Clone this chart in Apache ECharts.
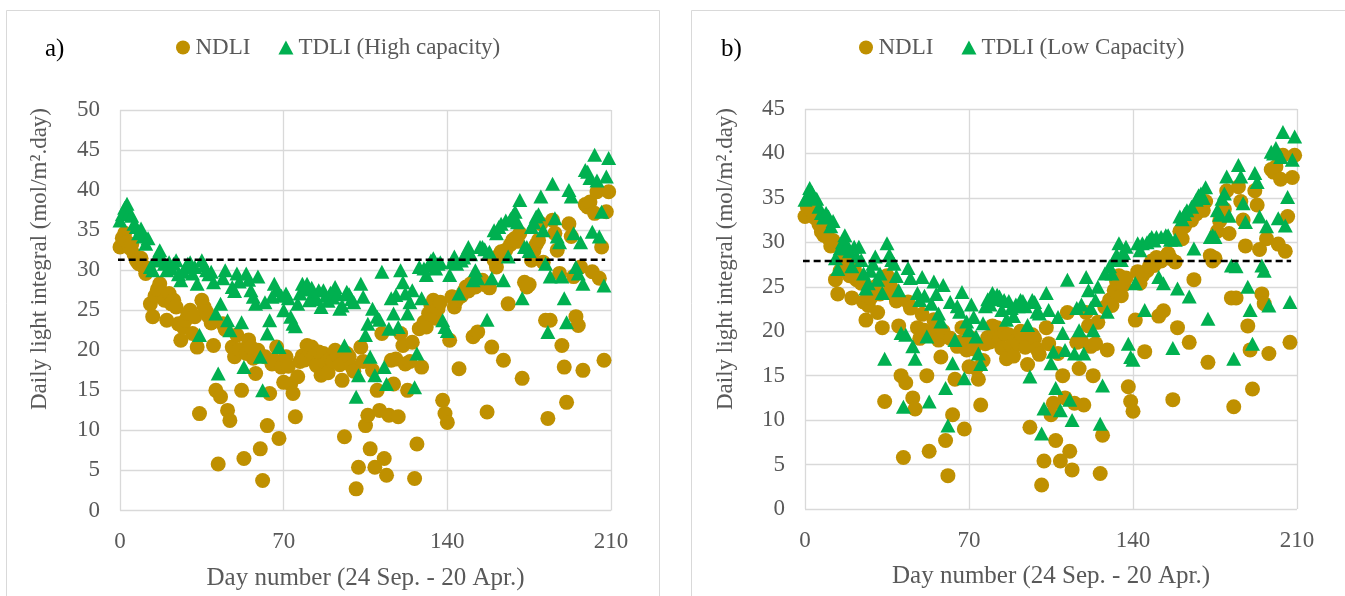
<!DOCTYPE html>
<html>
<head>
<meta charset="utf-8">
<title>Daily light integral</title>
<script src="https://cdn.jsdelivr.net/npm/echarts@6/dist/echarts.min.js"></script>
<style>
  html, body { margin: 0; padding: 0; background: #fff; }
  #chart { width: 1345px; height: 596px; }
</style>
</head>
<body>
<div id="chart"></div>
<script>
// natural daily light integral, one value per day (day 0 = 24 Sep.)
var ndli = [
  32.9, 34.0, 34.6, 33.5, 32.8, 33.2, 32.0, 31.2, 30.8, 31.5,
  30.5, 29.6, 30.2, 25.8, 24.2, 26.8, 27.6, 28.3, 27.2, 26.25,
  23.75, 27.1, 25.8, 26.25, 25.4, 23.3, 21.25, 22.9, 23.75, 24.6,
  25.0, 22.1, 24.2, 20.4, 12.1, 26.25, 25.4, 24.8, 24.2, 23.4,
  20.6, 15.0, 5.8, 14.2, 23.3, 22.6, 12.5, 11.25, 20.4, 19.2,
  21.9, 20.1, 15.0, 6.5, 19.6, 21.3, 20.4, 19.0, 17.1, 20.0,
  7.7, 3.75, 19.2, 10.6, 14.6, 18.3, 18.75, 20.4, 9.0, 17.9,
  16.0, 19.2, 18.0, 15.8, 14.6, 11.7, 16.7, 18.6, 19.3, 18.8,
  20.6, 19.9, 20.4, 19.3, 18.1, 19.8, 16.9, 19.6, 18.4, 17.2,
  19.0, 18.6, 20.0, 19.4, 18.2, 16.25, 9.2, 19.6, 19.2, 18.0,
  17.4, 2.7, 5.4, 20.4, 18.6, 10.6, 11.9, 7.7, 17.5, 5.4,
  15.0, 12.5, 22.1, 6.5, 4.4, 11.9, 18.75, 15.8, 18.9, 11.7,
  22.1, 20.6, 18.3, 15.0, 18.6, 21.0, 4.0, 8.3, 22.7, 17.9,
  23.5, 22.9, 24.6, 25.6, 26.25, 24.0, 25.2, 26.0, 13.75, 12.1,
  11.0, 21.25, 26.7, 25.4, 26.25, 17.7, 26.8, 27.3, 27.9, 27.4,
  28.3, 21.7, 27.9, 22.3, 28.4, 28.75, 28.2, 12.3, 27.8, 20.4,
  31.25, 30.4, 31.8, 32.3, 18.75, 32.5, 25.8, 33.2, 33.75, 34.0,
  33.6, 34.6, 16.5, 28.5, 27.9, 28.2, 31.25, 32.4, 33.2, 33.75,
  35.8, 31.0, 23.75, 11.5, 23.75, 36.25, 34.6, 32.5, 29.6, 20.6,
  17.9, 13.5, 35.8, 34.2, 29.2, 24.2, 23.1, 30.4, 17.5, 38.2,
  37.9, 38.5, 29.8, 37.1, 39.8, 29.0, 32.9, 18.75, 37.3, 39.8
];

// total daily light integral with high capacity lighting
var tdliHigh = [
  36.2, 37.0, 37.8, 38.3, 37.2, 36.8, 35.8, 35.4, 34.6, 35.2,
  34.2, 33.3, 34.0, 30.4, 30.0, 31.2, 31.8, 32.5, 31.5, 30.8,
  30.0, 31.0, 30.2, 30.8, 31.25, 29.5, 28.75, 29.8, 30.4, 30.8,
  31.0, 29.6, 30.4, 28.3, 21.9, 31.25, 30.6, 30.0, 29.5, 29.8,
  28.5, 24.6, 17.1, 25.8, 29.0, 30.0, 23.75, 22.5, 27.9, 27.4,
  29.6, 28.6, 23.5, 17.9, 29.6, 28.8, 27.5, 26.7, 25.8, 29.2,
  19.2, 15.0, 26.0, 22.1, 23.75, 26.7, 28.3, 27.5, 20.4, 26.8,
  25.0, 27.1, 26.5, 24.2, 23.3, 23.0, 25.8, 27.1, 28.3, 27.6,
  28.3, 26.25, 27.8, 27.0, 26.4, 27.5, 25.4, 27.5, 26.8, 26.2,
  27.2, 26.6, 27.9, 27.0, 25.2, 25.6, 20.6, 27.3, 27.0, 26.4,
  26.0, 14.2, 16.9, 28.3, 26.7, 21.9, 23.3, 19.2, 25.2, 16.9,
  24.2, 23.8, 29.8, 17.9, 15.8, 22.7, 26.5, 24.6, 26.9, 22.9,
  30.0, 28.5, 27.1, 24.6, 26.0, 27.5, 15.4, 19.6, 30.4, 26.5,
  30.2, 29.4, 30.6, 31.2, 31.5, 30.2, 30.8, 31.0, 23.75, 22.9,
  22.4, 29.4, 31.0, 31.7, 30.8, 27.1, 31.2, 31.6, 32.2, 32.9,
  32.0, 28.75, 30.0, 29.0, 32.9, 32.9, 32.6, 23.8, 32.3, 29.0,
  35.0, 34.6, 35.4, 35.8, 28.75, 36.2, 31.7, 36.4, 36.8, 37.3,
  36.0, 38.75, 26.5, 32.9, 32.9, 32.4, 35.4, 36.0, 36.7, 37.0,
  39.2, 35.0, 30.8, 22.3, 29.2, 40.8, 36.5, 34.2, 33.5, 29.2,
  26.5, 23.5, 40.0, 39.2, 34.6, 30.4, 29.6, 33.5, 28.3, 42.5,
  42.3, 41.5, 34.8, 44.4, 41.2, 34.2, 37.3, 28.1, 41.7, 44.0
];

// total daily light integral with low capacity lighting
var tdliLow = [
  34.8, 35.2, 36.1, 35.6, 35.0, 34.9, 34.0, 33.3, 32.8, 33.3,
  32.9, 31.8, 32.4, 28.2, 27.0, 29.3, 30.0, 30.8, 29.7, 29.0,
  27.3, 29.5, 28.4, 29.5, 28.0, 26.5, 24.8, 25.4, 26.8, 27.6,
  28.4, 25.8, 26.5, 24.3, 16.9, 29.9, 28.6, 28.0, 27.6, 26.2,
  24.6, 19.8, 11.5, 19.6, 27.1, 26.0, 18.3, 16.9, 24.3, 23.5,
  26.1, 24.0, 19.4, 12.1, 23.1, 25.6, 24.2, 22.0, 21.1, 25.2,
  13.6, 9.4, 23.3, 16.4, 19.0, 22.8, 22.2, 24.4, 14.7, 21.1,
  20.1, 23.0, 21.6, 19.4, 17.5, 16.3, 20.9, 22.8, 23.6, 23.0,
  24.3, 23.6, 24.1, 23.9, 22.4, 23.5, 21.3, 23.4, 22.6, 21.7,
  23.0, 22.8, 23.5, 23.4, 22.8, 20.7, 14.9, 23.5, 23.3, 22.2,
  22.0, 8.5, 11.3, 24.3, 22.4, 16.4, 17.7, 13.6, 21.6, 11.1,
  19.8, 17.9, 25.8, 12.3, 10.0, 17.5, 22.6, 20.1, 23.0, 17.5,
  26.1, 24.6, 22.6, 20.1, 23.5, 25.0, 9.6, 13.9, 26.5, 22.2,
  27.3, 26.5, 28.0, 28.6, 29.9, 28.0, 28.8, 29.5, 18.6, 17.1,
  16.8, 25.4, 29.9, 29.1, 29.9, 22.4, 30.0, 30.3, 30.6, 30.2,
  30.6, 26.1, 30.6, 25.4, 30.8, 30.8, 30.3, 18.1, 30.3, 24.8,
  32.9, 32.6, 33.2, 33.6, 23.9, 34.0, 29.3, 34.8, 35.3, 35.5,
  35.0, 36.2, 21.4, 30.6, 30.8, 30.6, 33.6, 33.1, 34.9, 35.5,
  37.4, 33.0, 27.4, 16.9, 27.3, 38.7, 37.4, 34.4, 32.3, 25.0,
  22.4, 18.6, 37.8, 36.8, 32.9, 27.4, 26.8, 31.8, 22.9, 40.2,
  40.0, 40.6, 32.7, 39.6, 42.4, 31.9, 35.1, 23.3, 39.3, 41.9
];

// target DLI lines (dashed)
var targetDays = [-1, 207.5];
var targetHigh = 31.3;
var targetLow = 27.9;

var xTicks = [0, 70, 140, 210];

function pairs(vals) {
    return vals.map(function (v, i) { return [i, v]; });
}

var font = 'Liberation Serif';
var grey = '#595959';
var gridGrey = '#D9D9D9';
var gold = '#BF9000';
var green = '#00B050';

function xAxisFor(idx) {
    return {
        gridIndex: idx, type: 'value', min: xTicks[0], max: xTicks[xTicks.length - 1], interval: 70,
        axisLine: { show: false }, axisTick: { show: false },
        splitLine: { show: true, lineStyle: { color: gridGrey, width: 1.3 } },
        axisLabel: { color: grey, fontFamily: font, fontSize: 23, margin: 20 },
        name: 'Day number (24 Sep. - 20 Apr.)', nameLocation: 'middle', nameGap: 55,
        nameTextStyle: { color: grey, fontFamily: font, fontSize: 25 }
    };
}

function yAxisFor(idx, max) {
    return {
        gridIndex: idx, type: 'value', min: 0, max: max, interval: 5,
        axisLine: { show: false }, axisTick: { show: false },
        splitLine: { show: true, lineStyle: { color: gridGrey, width: 1.3 } },
        axisLabel: { color: grey, fontFamily: font, fontSize: 23, margin: 20 }
    };
}

function targetLine(idx, y) {
    return {
        name: 'target', type: 'line', xAxisIndex: idx, yAxisIndex: idx, clip: false,
        symbol: 'none', silent: true,
        lineStyle: { color: '#000', width: 2.5, type: [7, 4] },
        data: targetDays.map(function (d) { return [d, y]; })
    };
}

var chart = echarts.init(document.getElementById('chart'), null, { renderer: 'canvas' });

var option = {
    animation: false,
    backgroundColor: '#fff',
    title: [
        { text: 'a)', left: 40, top: 32, textStyle: { color: '#000', fontFamily: font, fontSize: 25, fontWeight: 'normal' } },
        { text: 'b)', left: 716, top: 32, textStyle: { color: '#000', fontFamily: font, fontSize: 25, fontWeight: 'normal' } }
    ],
    legend: [
        {
            left: 171, top: 31, itemGap: 28, itemTextGap: 5,
            textStyle: { color: grey, fontFamily: font, fontSize: 23 },
            data: [
                { name: 'NDLI', icon: 'circle', itemWidth: 13, itemHeight: 13 },
                { name: 'TDLI (High capacity)', icon: 'triangle' }
            ],
            itemWidth: 15, itemHeight: 14
        },
        {
            left: 854, top: 31, itemGap: 28, itemTextGap: 5,
            textStyle: { color: grey, fontFamily: font, fontSize: 23 },
            data: [
                { name: 'NDLI', icon: 'circle', itemWidth: 13, itemHeight: 13 },
                { name: 'TDLI (Low Capacity)', icon: 'triangle' }
            ],
            itemWidth: 15, itemHeight: 14
        }
    ],
    grid: [
        { left: 120, top: 110, width: 491, height: 400.5 },
        { left: 805, top: 109, width: 492, height: 400 }
    ],
    xAxis: [xAxisFor(0), xAxisFor(1)],
    yAxis: [yAxisFor(0, 50), yAxisFor(1, 45)],
    graphic: [
        { type: 'rect', shape: { x: 6.5, y: 10.5, width: 653, height: 600 }, style: { fill: 'none', stroke: gridGrey, lineWidth: 1 }, silent: true },
        { type: 'rect', shape: { x: 691.5, y: 10.5, width: 660, height: 600 }, style: { fill: 'none', stroke: gridGrey, lineWidth: 1 }, silent: true },
        { type: 'text', x: 40, y: 259, rotation: Math.PI / 2,
          style: { text: 'Daily light integral (mol/m\u00B2.day)', fill: grey, font: '23px "Liberation Serif"', align: 'center', verticalAlign: 'middle' } },
        { type: 'text', x: 726, y: 259, rotation: Math.PI / 2,
          style: { text: 'Daily light integral (mol/m\u00B2.day)', fill: grey, font: '23px "Liberation Serif"', align: 'center', verticalAlign: 'middle' } }
    ],
    series: [
        { name: 'NDLI', type: 'scatter', xAxisIndex: 0, yAxisIndex: 0, symbol: 'circle', symbolSize: 15,
          itemStyle: { color: gold, opacity: 1 }, data: pairs(ndli) },
        { name: 'TDLI (High capacity)', type: 'scatter', xAxisIndex: 0, yAxisIndex: 0, symbol: 'triangle', symbolSize: [15, 14],
          itemStyle: { color: green, opacity: 1 }, data: pairs(tdliHigh) },
        targetLine(0, targetHigh),
        { name: 'NDLI', type: 'scatter', xAxisIndex: 1, yAxisIndex: 1, symbol: 'circle', symbolSize: 15,
          itemStyle: { color: gold, opacity: 1 }, data: pairs(ndli) },
        { name: 'TDLI (Low Capacity)', type: 'scatter', xAxisIndex: 1, yAxisIndex: 1, symbol: 'triangle', symbolSize: [15, 14],
          itemStyle: { color: green, opacity: 1 }, data: pairs(tdliLow) },
        targetLine(1, targetLow)
    ]
};

chart.setOption(option);
</script>
</body>
</html>
